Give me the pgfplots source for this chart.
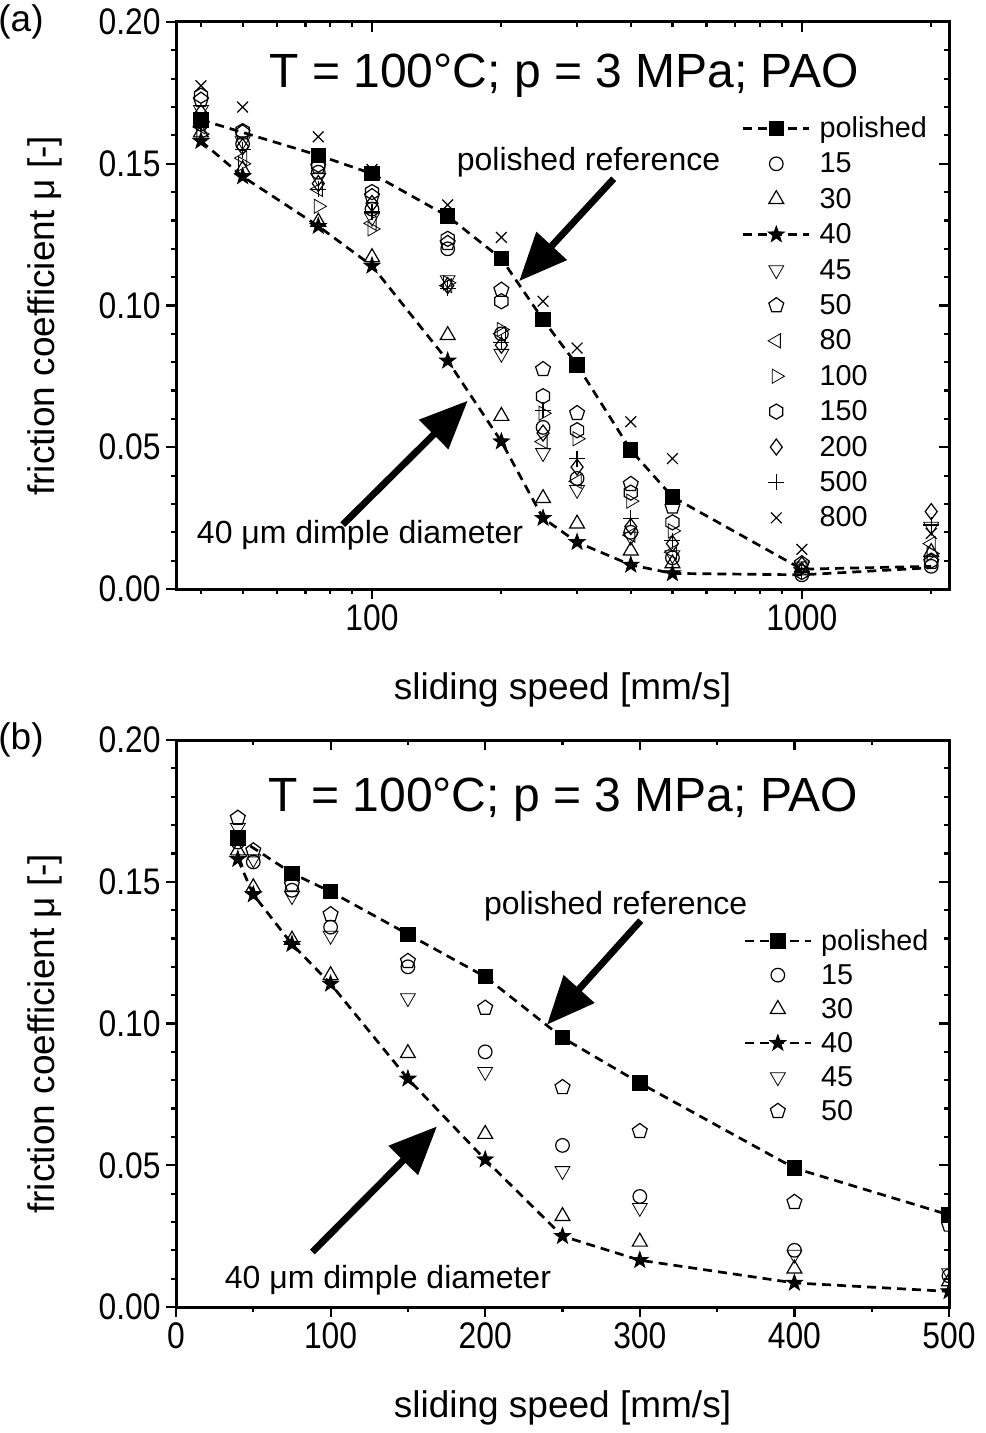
\documentclass[border=0pt]{standalone}
\usepackage{pgfplots}
\pgfplotsset{compat=1.18}
\usepackage{pgfplotstable}
\usepackage{fontspec}
\setmainfont{Liberation Sans}
\newfontfamily\narrowfont[FakeStretch=0.86]{Liberation Sans}
\usetikzlibrary{arrows.meta}

\newcommand\ticklab{\narrowfont\fontsize{18.5}{20}\selectfont}
\newcommand\labfont{\fontsize{18.5}{21}\selectfont}
\newcommand\titlefont{\fontsize{24}{28}\selectfont}
\newcommand\legfont{\fontsize{14.4}{17}\selectfont}
\newcommand\annfont{\fontsize{16}{19}\selectfont}

\pgfdeclareplotmark{fstar}{%
 \pgfpathmoveto{\pgfpointpolar{90}{1.3\pgfplotmarksize}}%
 \pgfpathlineto{\pgfpointpolar{126}{0.52\pgfplotmarksize}}%
 \pgfpathlineto{\pgfpointpolar{162}{1.3\pgfplotmarksize}}%
 \pgfpathlineto{\pgfpointpolar{198}{0.52\pgfplotmarksize}}%
 \pgfpathlineto{\pgfpointpolar{234}{1.3\pgfplotmarksize}}%
 \pgfpathlineto{\pgfpointpolar{270}{0.52\pgfplotmarksize}}%
 \pgfpathlineto{\pgfpointpolar{306}{1.3\pgfplotmarksize}}%
 \pgfpathlineto{\pgfpointpolar{342}{0.52\pgfplotmarksize}}%
 \pgfpathlineto{\pgfpointpolar{18}{1.3\pgfplotmarksize}}%
 \pgfpathlineto{\pgfpointpolar{54}{0.52\pgfplotmarksize}}%
 \pgfpathclose\pgfusepathqfillstroke}
\pgfdeclareplotmark{hexa}{%
 \pgfpathmoveto{\pgfpointpolar{90}{1.05\pgfplotmarksize}}%
 \pgfpathlineto{\pgfpointpolar{150}{1.05\pgfplotmarksize}}%
 \pgfpathlineto{\pgfpointpolar{210}{1.05\pgfplotmarksize}}%
 \pgfpathlineto{\pgfpointpolar{270}{1.05\pgfplotmarksize}}%
 \pgfpathlineto{\pgfpointpolar{330}{1.05\pgfplotmarksize}}%
 \pgfpathlineto{\pgfpointpolar{30}{1.05\pgfplotmarksize}}%
 \pgfpathclose\pgfusepathqstroke}

% polished reference
\pgfplotstableread{
x y
40 0.1655
75 0.153
100 0.1465
150 0.1315
200 0.1165
250 0.095
300 0.079
400 0.049
500 0.0325
1000 0.007
2000 0.008
}\polished
% 40 um dimples
\pgfplotstableread{
x y
40 0.158
50 0.1455
75 0.128
100 0.114
150 0.0805
200 0.052
250 0.025
300 0.0165
400 0.0085
500 0.0055
1000 0.005
2000 0.0075
}\dforty
% other dimple diameters
\pgfplotstableread{
x s15 s30 s45 s50 s80 s100 s150 s200 s500 s800
40 0.164 0.161 0.169 0.1725 0.163 0.1605 0.174 0.168 0.164 0.1775
50 0.157 0.148 0.158 0.161 0.152 0.150 0.1615 0.156 0.155 0.170
75 0.147 0.1295 0.145 0.149 0.141 0.135 0.1497 0.143 0.141 0.1595
100 0.134 0.117 0.131 0.1385 0.129 0.127 0.140 0.136 0.133 0.148
150 0.120 0.0895 0.109 0.122 0.107 0.108 0.1235 0.107 0.106 0.1355
200 0.090 0.061 0.083 0.1055 0.090 0.0915 0.1015 0.086 0.087 0.124
250 0.057 0.032 0.048 0.0775 0.052 0.062 0.068 0.055 0.063 0.1015
300 0.039 0.023 0.035 0.062 0.038 0.053 0.056 0.043 0.046 0.085
400 0.020 0.0135 0.0185 0.037 0.019 0.031 0.034 0.022 0.025 0.059
500 0.011 0.009 0.012 0.029 0.013 0.0205 0.0235 0.016 0.017 0.046
1000 0.005 0.0065 0.008 0.009 0.0075 0.007 0.006 0.0085 0.006 0.014
2000 0.008 0.013 0.022 0.0095 0.016 0.0125 0.010 0.0273 0.0226 0.0196
}\dimples

\tikzset{ann/.style={line width=3.4pt, -{Triangle[length=24pt, width=20pt]}}}

\pgfplotsset{
  commonax/.style={
    scale only axis, width=386.5pt, height=283.5pt,
    ymin=0, ymax=0.2, ytick={0,0.05,0.1,0.15,0.2}, minor y tick num=4,
    /pgf/number format/assume math mode=true,
    yticklabel style={/pgf/number format/fixed, /pgf/number format/fixed zerofill, /pgf/number format/precision=2},
    tick label style={font=\ticklab, inner sep=2.5pt},
    major tick length=5pt, minor tick length=2.5pt,
    tick style={line width=1.1pt, black},
    axis line style={line width=1.5pt},
  },
  mainax/.style={commonax, xtick pos=left, ytick pos=left, tick align=outside,
    xlabel={sliding speed [mm/s]}, ylabel={friction coefficient μ [-]},
    label style={font=\labfont},
    xlabel style={at={(axis description cs:0.5,0)}, anchor=center, yshift=-50.5pt},
    ylabel style={at={(axis description cs:-0.1695,0.482)}, anchor=center},
    legend cell align=left,
    legend image code/.code={\draw[##1, mark indices={2}] plot coordinates {(0pt,1pt) (16.5pt,1pt) (33pt,1pt)};},
    legend style={draw=none, fill=none, font=\legfont, anchor=north east,
      nodes={inner sep=0.5pt, text height=10.5pt, text depth=3.5pt},
      /tikz/every odd column/.append style={column sep=4pt}},
  },
  mirrorax/.style={commonax, xtick pos=right, ytick pos=right, tick align=inside, xticklabels={}, yticklabels={}},
  sc/.style={only marks, black, mark size=3.5pt, mark options={line width=0.6pt, black}},
  dline/.style={black, line width=1.35pt, dash pattern=on 4.5pt off 3pt},
}

\begin{document}
\begin{tikzpicture}
% ---------------- panel (a) ----------------
\begin{axis}[mainax, xmode=log, xmin=35, xmax=2200, xtick={100,1000}, xticklabels={100,1000},
  minor xtick={40,50,60,70,80,90,200,300,400,500,600,700,800,900,2000},
  at={(88pt,-294.5pt)}, anchor=south west,
  legend style={at={(rel axis cs:0.981,0.843)}, row sep=2.7pt}]
\addplot[dline, mark=square*, mark size=3.6pt, mark options={solid, line width=0.5pt}, mark indices={1,2,3,4,5,6,7,8,9}] table[x=x,y=y] {\polished};
\addlegendentry{polished}
\addplot[sc, mark=o, mark size=3.4pt] table[x=x,y=s15] {\dimples};
\addlegendentry{15}
\addplot[sc, mark=triangle, mark size=4.3pt] table[x=x,y=s30] {\dimples};
\addlegendentry{30}
\addplot[dline, mark=fstar, mark size=3.3pt, mark options={solid, line width=0.4pt}, mark indices={1,2,3,4,5,6,7,8,9,10}] table[x=x,y=y] {\dforty};
\addlegendentry{40}
\addplot[sc, mark=triangle, mark size=4.3pt, mark options={rotate=180}] table[x=x,y=s45] {\dimples};
\addlegendentry{45}
\addplot[sc, mark=pentagon, mark size=3.9pt] table[x=x,y=s50] {\dimples};
\addlegendentry{50}
\addplot[sc, mark=triangle, mark size=4.1pt, mark options={rotate=90}] table[x=x,y=s80] {\dimples};
\addlegendentry{80}
\addplot[sc, mark=triangle, mark size=4.1pt, mark options={rotate=-90}] table[x=x,y=s100] {\dimples};
\addlegendentry{100}
\addplot[sc, mark=hexa, mark size=3.6pt] table[x=x,y=s150] {\dimples};
\addlegendentry{150}
\addplot[sc, mark=diamond, mark size=4pt] table[x=x,y=s200] {\dimples};
\addlegendentry{200}
\addplot[sc, mark=+, mark size=4pt] table[x=x,y=s500] {\dimples};
\addlegendentry{500}
\addplot[sc, mark=x, mark size=3.8pt] table[x=x,y=s800] {\dimples};
\addlegendentry{800}
\node[font=\titlefont, inner sep=0pt] at (axis cs:280,0.181) {T = 100°C; p = 3 MPa; PAO};
\node[font=\annfont, inner sep=0pt] at (axis cs:319,0.1505) {polished reference};
\node[font=\annfont, inner sep=0pt] at (axis cs:93.8,0.0188) {40 μm dimple diameter};
\draw[ann] (axis cs:365,0.1447) -- (axis cs:220,0.1086);
\draw[ann] (axis cs:85.5,0.0227) -- (axis cs:167,0.0664);
\end{axis}
\begin{axis}[mirrorax, xmode=log, xmin=35, xmax=2200, xtick={100,1000},
  minor xtick={40,50,60,70,80,90,200,300,400,500,600,700,800,900,2000},
  at={(88pt,-294.5pt)}, anchor=south west]
\addplot[draw=none] coordinates {(100,0.1)};
\end{axis}
% ---------------- panel (b) ----------------
\begin{axis}[mainax, xmin=0, xmax=500, xtick={0,100,200,300,400,500}, minor x tick num=1,
  at={(88pt,-653.5pt)}, anchor=south west, clip marker paths=true,
  legend style={at={(rel axis cs:0.983,0.676)}, row sep=2pt}]
\addplot[dline, mark=square*, mark size=3.6pt, mark options={solid, line width=0.5pt}, mark indices={1,2,3,4,5,6,7,8,9}] table[x=x,y=y] {\polished};
\addlegendentry{polished}
\addplot[sc, mark=o, mark size=3.4pt] table[x=x,y=s15] {\dimples};
\addlegendentry{15}
\addplot[sc, mark=triangle, mark size=4.3pt] table[x=x,y=s30] {\dimples};
\addlegendentry{30}
\addplot[dline, mark=fstar, mark size=3.3pt, mark options={solid, line width=0.4pt}, mark indices={1,2,3,4,5,6,7,8,9,10}] table[x=x,y=y] {\dforty};
\addlegendentry{40}
\addplot[sc, mark=triangle, mark size=4.3pt, mark options={rotate=180}] table[x=x,y=s45] {\dimples};
\addlegendentry{45}
\addplot[sc, mark=pentagon, mark size=3.9pt] table[x=x,y=s50] {\dimples};
\addlegendentry{50}
\node[font=\titlefont, inner sep=0pt] at (axis cs:250.5,0.179) {T = 100°C; p = 3 MPa; PAO};
\node[font=\annfont, inner sep=0pt] at (axis cs:284.4,0.1413) {polished reference};
\node[font=\annfont, inner sep=0pt] at (axis cs:137.1,0.0096) {40 μm dimple diameter};
\draw[ann] (axis cs:300.6,0.1363) -- (axis cs:240,0.0996);
\draw[ann] (axis cs:88.2,0.0194) -- (axis cs:168.8,0.0637);
\end{axis}
\begin{axis}[mirrorax, xmin=0, xmax=500, xtick={0,100,200,300,400,500}, minor x tick num=1,
  at={(88pt,-653.5pt)}, anchor=south west]
\addplot[draw=none] coordinates {(100,0.1)};
\end{axis}
\node[font=\labfont] at (10.5pt,-11pt) {(a)};
\node[font=\labfont] at (10.5pt,-370pt) {(b)};
\pgfresetboundingbox
\useasboundingbox (0,0) rectangle (492.5pt,-716.5pt);
\end{tikzpicture}
\end{document}
